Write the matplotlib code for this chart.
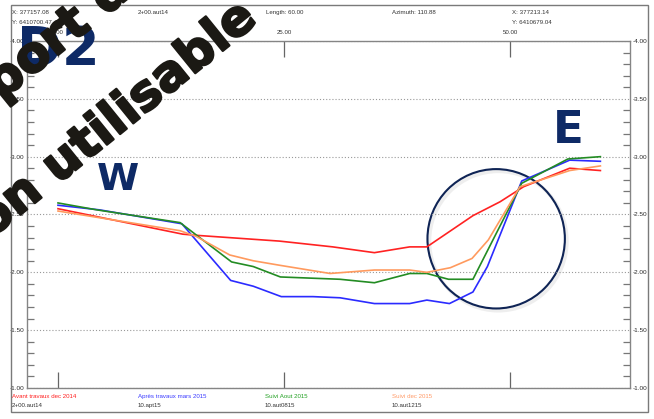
import matplotlib
matplotlib.use('Agg')
import matplotlib.pyplot as plt
import matplotlib.patheffects as pe
from matplotlib.patches import Rectangle, Ellipse
from matplotlib.ticker import MultipleLocator, FormatStrFormatter

plt.rcParams['axes.unicode_minus'] = False

W, H = 654, 419

# profile data: distance (m) / level (m)
x_avant = [0, 13.8, 15.3, 24.5, 30.4, 35, 38.9, 40.8, 45.9, 48.9, 51.5, 56.6, 60]
y_avant = [-2.55, -2.33, -2.32, -2.27, -2.22, -2.17, -2.22, -2.22, -2.49, -2.61, -2.74, -2.90, -2.88]

x_apres = [0, 4.6, 13.7, 19.1, 21.6, 24.7, 28.2, 31.2, 35, 38.9, 40.8, 43.3, 45.9, 47.5, 51.3, 56.6, 60]
y_apres = [-2.58, -2.54, -2.42, -1.93, -1.88, -1.79, -1.79, -1.78, -1.73, -1.73, -1.76, -1.73, -1.83, -2.05, -2.79, -2.97, -2.96]

x_aout = [0, 4.3, 13.5, 19.2, 21.6, 24.6, 31.2, 35, 38.9, 40.8, 43.2, 45.9, 51.3, 56.4, 60]
y_aout = [-2.60, -2.54, -2.43, -2.09, -2.05, -1.96, -1.94, -1.91, -1.99, -1.99, -1.94, -1.94, -2.77, -2.98, -3.00]

x_dec = [0, 13.5, 15.3, 19.0, 21.6, 24.6, 30.1, 35, 38.9, 40.8, 43.4, 45.8, 47.6, 51.1, 56.6, 60]
y_dec = [-2.53, -2.36, -2.31, -2.15, -2.10, -2.06, -1.99, -2.02, -2.02, -2.00, -2.04, -2.12, -2.28, -2.74, -2.88, -2.92]

series_names = ['Avant travaux dec 2014', 'Après travaux mars 2015', 'Suivi Aout 2015', 'Suivi dec 2015']
series_codes = ['2+00.aut14', '10.apt15', '10.aut0815', '10.aut1215']
line_colors = ['#ff2222', '#2b2bff', '#238c23', '#ff9a5e']
text_colors = ['#ff2020', '#3a3aff', '#22a022', '#ff9966']

header = [('X: 377157.08', 12, 12.7), ('Y: 6410700.47', 12, 23), ('2+00.aut14', 138, 12.7),
          ('Length: 60.00', 266, 12.7), ('Azimuth: 110.88', 392, 12.7),
          ('X: 377213.14', 512, 12.7), ('Y: 6410679.04', 512, 23)]


def fx(px):
    return px / W


def fy(py):
    return 1 - py / H


fig = plt.figure(figsize=(W / 100, H / 100), dpi=100)
fig.patch.set_facecolor('white')

ax = fig.add_axes([fx(27), fy(388), (630 - 27) / W, (388 - 41) / H])
ax.set_xlim((27 - 58) / 9.04, (630 - 58) / 9.04)
ax.set_ylim(-1, -4)

for xs, ys, c in zip([x_avant, x_apres, x_aout, x_dec], [y_avant, y_apres, y_aout, y_dec], line_colors):
    ax.plot(xs, ys, color=c, lw=1.2, solid_joinstyle='round')

for s in ax.spines.values():
    s.set_color('#858585')
    s.set_linewidth(1.0)

small = dict(family='Liberation Sans', size=4.4)

ax.set_xticks([0, 25, 50])
ax.xaxis.set_major_formatter(FormatStrFormatter('%.2f'))
ax.tick_params(axis='x', direction='in', length=11.5, width=0.9, color='#666666',
               top=True, bottom=True, labeltop=True, labelbottom=False, pad=4,
               labelsize=4.4, labelcolor='#333333')
ax.yaxis.set_major_locator(MultipleLocator(0.5))
ax.yaxis.set_minor_locator(MultipleLocator(0.1))
ax.yaxis.set_major_formatter(FormatStrFormatter('%.2f'))
ax.tick_params(axis='y', which='major', length=0, left=True, right=True,
               labelleft=True, labelright=True, labelsize=4.6, labelcolor='#2a2a2a', pad=2)
ax.tick_params(axis='y', which='minor', direction='in', length=5, width=0.9,
               color='#777777', left=True, right=True)
for lab in ax.get_xticklabels() + ax.get_yticklabels():
    lab.set_family('Liberation Sans')
ax.grid(True, axis='y', which='major', linestyle=(0, (1, 1.8)), color='#999999', lw=0.8)

# circled zone
ax.add_patch(Ellipse((48.7, -2.27), 15.2, 1.205, fill=False, ec='#d0d0d0', lw=2.5, alpha=0.35))
ax.add_patch(Ellipse((48.47, -2.29), 15.2, 1.205, fill=False, ec='#0f2455', lw=1.5))

# outer frame
fig.add_artist(Rectangle((fx(10.5), fy(411.5)), (647.5 - 10.5) / W, (411.5 - 5.5) / H,
                         transform=fig.transFigure, fill=False, ec='#7a7a7a', lw=1.0))

for txt, px, py in header:
    fig.text(fx(px), fy(py), txt, ha='left', va='center', color='#333333', **small)

for i, (name, code) in enumerate(zip(series_names, series_codes)):
    px = [12, 138, 265, 392][i]
    fig.text(fx(px), fy(396.7), name, ha='left', va='center', color=text_colors[i], **small)
    fig.text(fx(px), fy(405.5), code, ha='left', va='center', color='#333333', **small)

navy = '#0e2a66'
fig.text(fx(100), fy(65), 'D2', ha='right', va='baseline', color=navy, fontsize=39, fontweight='bold')
fig.text(fx(97), fy(190), 'W', ha='left', va='baseline', color=navy, fontsize=27.5, fontweight='bold')
fig.text(fx(553), fy(143), 'E', ha='left', va='baseline', color=navy, fontsize=32.5, fontweight='bold')

# watermark
wm_color = '#1b1914'
wm = dict(rotation=39, rotation_mode='anchor', ha='left', va='baseline', color=wm_color,
          fontsize=35.6, fontweight='bold', family='DejaVu Sans',
          path_effects=[pe.withStroke(linewidth=1.6, foreground=wm_color)])
fig.text(fx(-82), fy(168.5), "Rapport d'essai", **wm)
fig.text(fx(-36.5), fy(260.9), 'non utilisable', **wm)

fig.savefig('out.png', dpi=100)
